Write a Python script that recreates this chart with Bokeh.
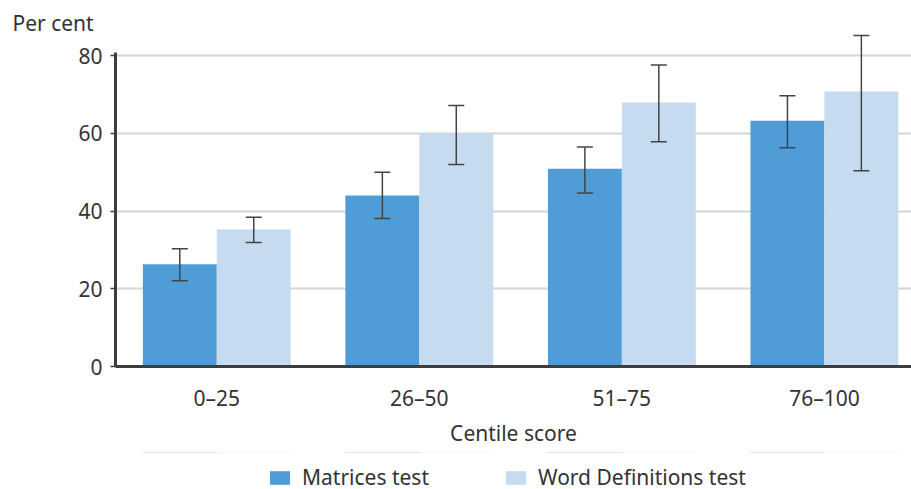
from bokeh.plotting import figure
from bokeh.layouts import column
from bokeh.models import (Range1d, FixedTicker, ColumnDataSource, Whisker, TeeHead,
                          Legend, LegendItem)
from bokeh.embed import file_html
from bokeh.resources import INLINE

categories = ["0\u201325", "26\u201350", "51\u201375", "76\u2013100"]
series_names = ["Matrices test", "Word Definitions test"]
matrices = [26.3, 44.0, 50.9, 63.3]
matrices_lo = [22.1, 38.1, 44.7, 56.3]
matrices_hi = [30.3, 50.0, 56.5, 69.7]
worddef = [35.3, 60.0, 68.0, 70.8]
worddef_lo = [31.9, 52.0, 57.9, 50.4]
worddef_hi = [38.4, 67.2, 77.6, 85.2]
y_ticks = [0, 20, 40, 60, 80]

FONT = "Noto Sans"
FS = "21px"
TXT = "#333333"
C1 = "#4f9cd6"
C2 = "#c6dbf0"

centers = [i + 0.5 for i in range(len(categories))]
bw = 0.365
x1 = [c - bw / 2 for c in centers]
x2 = [c + bw / 2 for c in centers]

p = figure(frame_width=796, frame_height=334, output_backend="svg", toolbar_location=None,
           x_range=Range1d(0, 3.93), y_range=Range1d(0, 86),
           min_border_left=115, min_border_right=0, min_border_top=32,
           min_border_bottom=86)
p.outline_line_color = None
p.background_fill_color = "white"
p.border_fill_color = "white"

p.title.text = "Per cent"
p.title.align = "left"
p.title.offset = -103
p.title.standoff = -9
p.title.text_font = FONT
p.title.text_font_size = FS
p.title.text_font_style = "normal"
p.title.text_color = TXT

s1 = ColumnDataSource(dict(x=x1, top=matrices, lo=matrices_lo, hi=matrices_hi))
s2 = ColumnDataSource(dict(x=x2, top=worddef, lo=worddef_lo, hi=worddef_hi))

p.vbar(x="x", top="top", width=bw, source=s1, fill_color=C1, line_color=None)
p.vbar(x="x", top="top", width=bw, source=s2, fill_color=C2, line_color=None)

for s in (s1, s2):
    w = Whisker(base="x", upper="hi", lower="lo", source=s, level="overlay",
                line_color="#444444", line_width=1.5,
                upper_head=TeeHead(size=16, line_color="#444444", line_width=1.5),
                lower_head=TeeHead(size=16, line_color="#444444", line_width=1.5))
    p.add_layout(w)

# axes
p.xaxis.ticker = FixedTicker(ticks=centers)
p.xaxis.major_label_overrides = {c: lab for c, lab in zip(centers, categories)}
p.xaxis.major_tick_line_color = None
p.xaxis.minor_tick_line_color = None
p.xaxis.axis_line_color = "#3d3d3d"
p.xaxis.axis_line_width = 3
p.xaxis.major_label_standoff = 11
p.xaxis.major_label_text_font = FONT
p.xaxis.major_label_text_font_size = FS
p.xaxis.major_label_text_color = TXT
p.xaxis.axis_label = "Centile score"
p.xaxis.axis_label_text_font = FONT
p.xaxis.axis_label_text_font_size = FS
p.xaxis.axis_label_text_font_style = "normal"
p.xaxis.axis_label_text_color = TXT
p.xaxis.axis_label_standoff = 4

p.yaxis.ticker = FixedTicker(ticks=y_ticks)
p.yaxis.bounds = (0, 80.9)
p.yaxis.minor_tick_line_color = None
p.yaxis.major_tick_in = 0
p.yaxis.major_tick_out = 5
p.yaxis.major_tick_line_color = "#3d3d3d"
p.yaxis.major_tick_line_width = 1.5
p.yaxis.axis_line_color = "#3d3d3d"
p.yaxis.axis_line_width = 3
p.yaxis.major_label_standoff = 8
p.yaxis.major_label_text_font = FONT
p.yaxis.major_label_text_font_size = FS
p.yaxis.major_label_text_color = TXT

p.xgrid.grid_line_color = None
p.ygrid.grid_line_color = "#d3d6d9"
p.ygrid.grid_line_width = 2

# legend strip below the chart (its bars lie far outside its y range, only the legend shows)
lf = figure(width=911, height=37, output_backend="svg", toolbar_location=None,
            x_range=Range1d(0, 3.93), y_range=Range1d(-200, -100),
            x_axis_type=None, y_axis_type=None, min_border=0)
lf.outline_line_color = None
lf.xgrid.grid_line_color = None
lf.ygrid.grid_line_color = None
g1 = lf.vbar(x="x", top="top", width=bw, source=s1, fill_color=C1, line_color=None)
g2 = lf.vbar(x="x", top="top", width=bw, source=s2, fill_color=C2, line_color=None)

legend = Legend(items=[LegendItem(label=series_names[0], renderers=[g1], index=0),
                       LegendItem(label=series_names[1], renderers=[g2], index=0)],
                orientation="horizontal", location=(152, -2),
                glyph_width=25, glyph_height=17, spacing=74, label_standoff=10,
                label_text_font=FONT, label_text_font_size=FS,
                label_text_color=TXT, border_line_color=None,
                background_fill_alpha=0, padding=0, margin=0, label_height=17)
lf.add_layout(legend)

layout = column(p, lf, spacing=0)
open("out.html", "w").write(file_html(layout, INLINE))
